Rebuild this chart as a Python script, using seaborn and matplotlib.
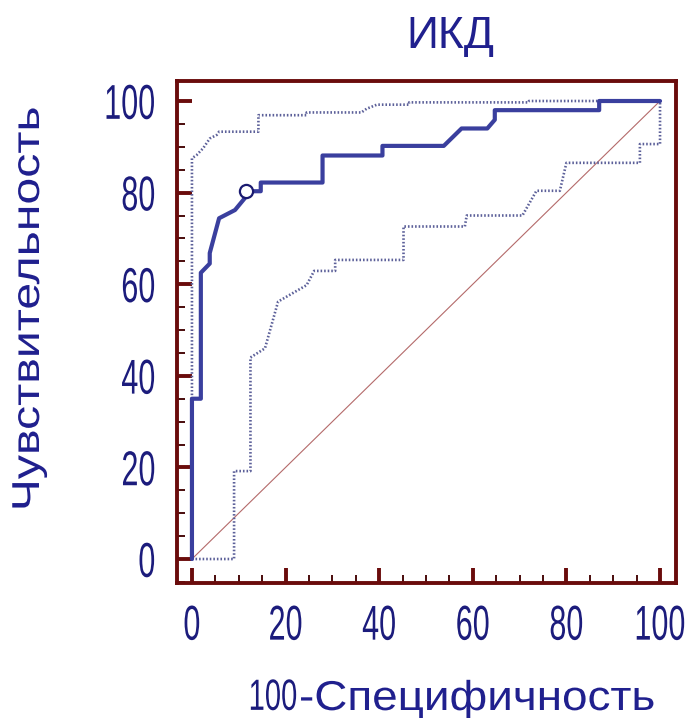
import numpy as np
import pandas as pd
import matplotlib
matplotlib.use("Agg")
import matplotlib.pyplot as plt
from matplotlib.patheffects import AbstractPathEffect
from matplotlib.transforms import Affine2D
from matplotlib.ticker import MultipleLocator
import seaborn as sns

# ROC curve for ИКД (1 - specificity vs sensitivity, %)
roc_fpr = [0, 0, 1.9, 1.9, 3.8, 3.8, 5.8, 9.2, 11.3, 11.5, 14.7, 14.7, 27.9, 27.9,
           40.7, 40.7, 53.8, 57.6, 63.1, 64.7, 64.7, 87.0, 87.0, 100]
roc_tpr = [0, 35, 35, 62.5, 64.5, 66.8, 74.4, 76.2, 78.8, 80.3, 80.3, 82.2, 82.2, 88.1,
           88.1, 90.2, 90.2, 94.0, 94.0, 95.9, 98.0, 98.0, 100, 100]

# upper confidence bound
upper_fpr = [0, 0, 1.0, 2.4, 3.8, 5.3, 5.8, 14.2, 14.2, 24.5, 24.5, 36.2, 37.3, 39.5,
             46.4, 46.4, 71.9, 72.0, 100]
upper_tpr = [0, 87.5, 88.2, 89.7, 91.8, 92.6, 93.3, 93.3, 96.9, 96.9, 97.5, 97.5, 98.3, 99.2,
             99.2, 99.7, 99.7, 100, 100]

# lower confidence bound
lower_fpr = [0, 9.0, 9.0, 12.5, 12.5, 15.6, 18.4, 24.5, 26.1, 30.6, 30.6, 45.2, 45.2,
             58.3, 58.7, 70.6, 73.6, 78.6, 80.0, 95.7, 95.7, 100, 100]
lower_tpr = [0, 0, 19.2, 19.2, 44.0, 46.0, 56.2, 59.8, 62.9, 62.9, 65.3, 65.3, 72.6,
             72.6, 75.0, 75.0, 80.4, 80.4, 86.5, 86.5, 90.6, 90.6, 100]

# chance diagonal
diag = [0, 100]

# optimal cut-off point
cut_fpr = [11.5]
cut_tpr = [80.3]

tick_values = [0, 20, 40, 60, 80, 100]

title = "ИКД"
ylabel = "Чувствительность"
xlabel_num = "100"
xlabel_txt = "-Специфичность"


class Stretch(AbstractPathEffect):
    """Scale glyph outlines about an anchor point of the text path."""

    def __init__(self, sx=1.0, sy=1.0, xanchor="center", yanchor="center"):
        super().__init__()
        self.sx, self.sy = sx, sy
        self.xanchor, self.yanchor = xanchor, yanchor

    @staticmethod
    def _pick(vals, where):
        if where in ("left", "bottom"):
            return vals.min()
        if where in ("right", "top"):
            return vals.max()
        return 0.5 * (vals.min() + vals.max())

    def draw_path(self, renderer, gc, tpath, affine, rgbFace=None):
        v = tpath.vertices
        if len(v) == 0:
            return
        x0 = self._pick(v[:, 0], self.xanchor)
        y0 = self._pick(v[:, 1], self.yanchor)
        t = Affine2D().translate(-x0, -y0).scale(self.sx, self.sy).translate(x0, y0)
        renderer.draw_path(gc, tpath, t + affine, rgbFace)


sns.set_theme(style="white")
plt.rcParams["font.family"] = ["Liberation Sans", "DejaVu Sans"]

frame_col = "#6a0c0c"
navy = "#1c1c7c"
text_col = "#20208e"
roc_col = "#3a3f9e"
ci_col = "#5c6099"
diag_col = "#b46a6a"

fig = plt.figure(figsize=(6.87, 7.18), dpi=100)
ax = fig.add_axes([0.2576, 0.188, 0.7263, 0.6985])

roc_df = pd.DataFrame({"fpr": roc_fpr, "tpr": roc_tpr})
up_df = pd.DataFrame({"fpr": upper_fpr, "tpr": upper_tpr})
lo_df = pd.DataFrame({"fpr": lower_fpr, "tpr": lower_tpr})
diag_df = pd.DataFrame({"fpr": diag, "tpr": diag})

sns.lineplot(data=diag_df, x="fpr", y="tpr", sort=False, estimator=None,
             color=diag_col, lw=0.8, ax=ax)
for df in (up_df, lo_df):
    sns.lineplot(data=df, x="fpr", y="tpr", sort=False, estimator=None,
                 color=ci_col, lw=1.9, ax=ax, linestyle=(0, (0.6, 0.75)))
sns.lineplot(data=roc_df, x="fpr", y="tpr", sort=False, estimator=None,
             color=roc_col, lw=3.0, ax=ax)
sns.scatterplot(x=cut_fpr, y=cut_tpr, s=90, facecolor="white",
                edgecolor="#1a1a70", linewidth=1.6, ax=ax, zorder=5)

ax.set_xlim(-3.2, 103.4)
ax.set_ylim(-5.24, 104.26)
ax.set_xlabel("")
ax.set_ylabel("")

for sp in ax.spines.values():
    sp.set_color(frame_col)
    sp.set_linewidth(2.8)

ax.xaxis.set_minor_locator(MultipleLocator(5))
ax.yaxis.set_minor_locator(MultipleLocator(5))
ax.set_xticks(tick_values)
ax.set_yticks(tick_values)
ax.set_xticklabels([str(v) for v in tick_values])
ax.set_yticklabels([str(v) for v in tick_values])
ax.tick_params(which="major", direction="in", length=10.5, width=2.8,
               color=frame_col, bottom=True, left=True, top=False, right=False,
               labelsize=22, labelcolor=navy)
ax.tick_params(which="minor", direction="in", length=5.8, width=1.4,
               color="#4a0c0c", bottom=True, left=True, top=False, right=False)
ax.tick_params(axis="x", which="major", pad=15)
ax.tick_params(axis="y", which="major", pad=15.5)

# tall, narrow digits for the tick labels
for lab in ax.get_xticklabels():
    lab.set_path_effects([Stretch(sy=1.6, xanchor="center", yanchor="top")])
for lab in ax.get_yticklabels():
    lab.set_path_effects([Stretch(sy=1.6, xanchor="right", yanchor="center")])

fig.text(450 / 687, 1 - 48 / 718, title, ha="center", va="baseline",
         fontsize=32, color=text_col)
fig.text(29 / 687, 1 - 309 / 718, ylabel, rotation=90, ha="center", va="center",
         fontsize=28, color=text_col, path_effects=[Stretch(sx=1.24)])
fig.text(297 / 687, 1 - 710 / 718, xlabel_num, ha="right", va="baseline",
         fontsize=21, color=navy,
         path_effects=[Stretch(sy=1.5, xanchor="right", yanchor="bottom")])
fig.text(299 / 687, 1 - 710 / 718, xlabel_txt, ha="left", va="baseline",
         fontsize=30, color=text_col,
         path_effects=[Stretch(sx=1.1, xanchor="left", yanchor="center")])

fig.savefig("out.png", dpi=100, facecolor="white")
